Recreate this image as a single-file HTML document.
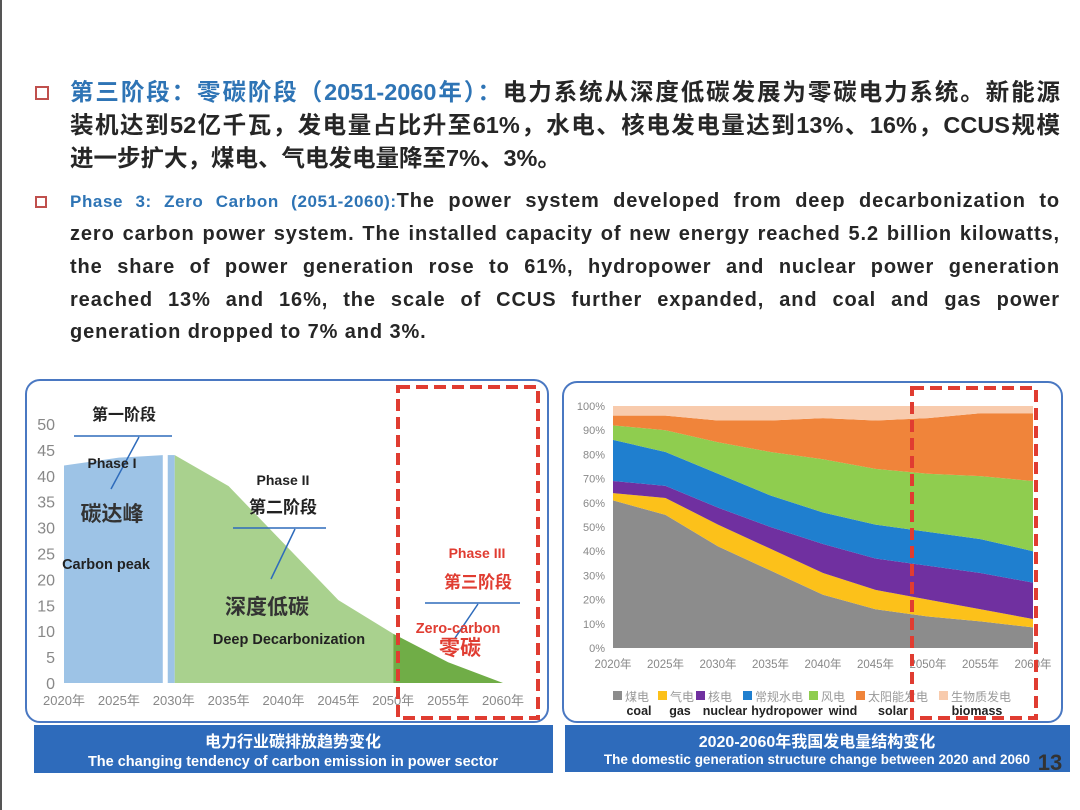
<!DOCTYPE html>
<html><head><meta charset="utf-8">
<style>
html,body{margin:0;padding:0;background:#fff;}
body{width:1080px;height:810px;position:relative;overflow:hidden;font-family:"Liberation Sans","Noto Sans CJK SC",sans-serif;}
.ln{position:absolute;left:70px;width:990px;white-space:nowrap;font-weight:bold;color:#262626;}
.j{text-align:justify;text-align-last:justify;}
.zh{font-size:23.5px;line-height:33px;}
.en{font-size:20px;line-height:32px;letter-spacing:0.9px;}
.bl{color:#2e74b5;}
.bul{position:absolute;left:35px;width:10px;height:10px;border:2px solid #c0504d;}
svg text{font-family:"Liberation Sans","Noto Sans CJK SC",sans-serif;}
</style></head><body>
<div style="position:absolute;left:0;top:0;width:2px;height:810px;background:#555"></div>
<div class="bul" style="top:86px"></div>
<div class="ln zh j" style="top:76px"><span class="bl">第三阶段：零碳阶段（2051-2060年）：</span>电力系统从深度低碳发展为零碳电力系统。新能源</div>
<div class="ln zh j" style="top:109px">装机达到52亿千瓦，发电量占比升至61%，水电、核电发电量达到13%、16%，CCUS规模</div>
<div class="ln zh" style="top:142px">进一步扩大，煤电、气电发电量降至7%、3%。</div>
<div class="bul" style="top:196px;width:8px;height:8px"></div>
<div class="ln en j" style="top:185px"><span class="bl" style="font-size:17px;letter-spacing:0.6px">Phase 3: Zero Carbon (2051-2060):</span>The power system developed from deep decarbonization to</div>
<div class="ln en j" style="top:218px">zero carbon power system. The installed capacity of new energy reached 5.2 billion kilowatts,</div>
<div class="ln en j" style="top:251px">the share of power generation rose to 61%, hydropower and nuclear power generation</div>
<div class="ln en j" style="top:284px">reached 13% and 16%, the scale of CCUS further expanded, and coal and gas power</div>
<div class="ln en" style="top:316px">generation dropped to 7% and 3%.</div>

<svg id="svg" width="1080" height="810" style="position:absolute;left:0;top:0">
<rect x="26" y="380" width="522" height="342" rx="14" fill="#fff" stroke="#4a78c2" stroke-width="2"/>
<rect x="563" y="382" width="499" height="340" rx="14" fill="#fff" stroke="#4a78c2" stroke-width="2"/>
<g id="left"></g><g id="right"></g>
<rect x="34" y="725" width="519" height="48" fill="#2e6bbb"/>
<text x="293" y="747" fill="#fff" font-size="16" font-weight="bold" text-anchor="middle">电力行业碳排放趋势变化</text>
<text x="293" y="766" fill="#fff" font-size="14.5" font-weight="bold" text-anchor="middle">The changing tendency of carbon emission in power sector</text>
<rect x="565" y="725" width="505" height="47" fill="#2e6bbb"/>
<text x="817" y="747" fill="#fff" font-size="16" font-weight="bold" text-anchor="middle">2020-2060年我国发电量结构变化</text>
<text x="817" y="764" fill="#fff" font-size="13.5" font-weight="bold" text-anchor="middle">The domestic generation structure change between 2020 and 2060</text>
<text x="1050" y="770" fill="#333" font-size="22" font-weight="bold" text-anchor="middle">13</text>
</svg>
<script>
const NS="http://www.w3.org/2000/svg";
// Left chart data
const leftYears=[2020,2025,2029,2030,2035,2040,2045,2050,2055,2060];
const leftEmission=[42,43.5,44,44,38,27,16,9.5,4,0];
const leftTicks=[0,5,10,15,20,25,30,35,40,45,50];
const leftLabels=["2020年","2025年","2030年","2035年","2040年","2045年","2050年","2055年","2060年"];
// Right chart data (share %, by series)
const rightLabels=["2020年","2025年","2030年","2035年","2040年","2045年","2050年","2055年","2060年"];
const coal=[61,55,42,32,22,16,13,11,8.5];
const gas=[3,7,9,9,9,8,7,5,3.5];
const nuclear=[5,5,7,9,12,13,14,15,15];
const hydro=[17,14,14,13,13,14,14,14,13];
const wind=[6,9,13,18,22,23,24,26,29];
const solar=[4,6,9,13,17,20,23,26,28];
const biomass=[4,4,6,6,5,6,5,3,3];
const rightTicks=[0,10,20,30,40,50,60,70,80,90,100];

function mk(tag,attrs,parent,text){const e=document.createElementNS(NS,tag);for(const k in attrs)e.setAttribute(k,attrs[k]);if(text!==undefined)e.textContent=text;parent.appendChild(e);return e;}

// LEFT
const L=document.getElementById('left');
const lx=y=>64+(y-2020)*(439/40);
const ly=v=>683-v*(259/50);
leftTicks.forEach(t=>{
  const e=mk('text',{x:55,y:ly(t)+6,'font-size':16,fill:'#888','text-anchor':'end'},L,t);
  
  
});
leftLabels.forEach((s,i)=>{
  const e=mk('text',{x:lx(2020+5*i),y:705,'font-size':13,fill:'#888','text-anchor':'middle'},L,s);
  
  
});
let d=`M${lx(2020)},${ly(0)}`;
for(let i=0;i<3;i++)d+=` L${lx(leftYears[i])},${ly(leftEmission[i])}`;
d+=` L${lx(leftYears[2])},${ly(0)} Z`;
const p1=mk('path',{d:d,fill:'#9dc3e6'},L);


const sx=lx(leftYears[3]);
const strip=mk('rect',{x:sx-6,y:ly(leftEmission[3]),width:7,height:ly(0)-ly(leftEmission[3]),fill:'#9dc3e6'},L);


function area(i0,i1,x0){let s=`M${x0},${ly(0)} L${x0},${ly(leftEmission[i0])}`;for(let i=i0+1;i<=i1;i++)s+=` L${lx(leftYears[i])},${ly(leftEmission[i])}`;s+=` L${lx(leftYears[i1])},${ly(0)} Z`;return s;}
const p2=mk('path',{d:area(3,7,sx+1),fill:'#a9d18e'},L);


const p3=mk('path',{d:area(7,9,lx(2050)),fill:'#70ad47'},L);


function t(x,y,s,size,col,name){const e=mk('text',{x:x,y:y,'font-size':size,'font-weight':'bold',fill:col,'text-anchor':'middle'},L,s);return e;}
t(124,420,"第一阶段",16,'#222','phase1-zh');
mk('line',{x1:74,y1:436,x2:172,y2:436,stroke:'#2e6bbb','stroke-width':1.5},L);
mk('line',{x1:139,y1:437,x2:111,y2:489,stroke:'#2e6bbb','stroke-width':1.5},L);
t(112,468,"Phase I",14,'#222','phase1-en');
t(112,521,"碳达峰",21,'#333','carbon-peak-zh');
t(106,569,"Carbon peak",14.5,'#222','carbon-peak-en');
t(283,485,"Phase II",14,'#222','phase2-en');
t(283,513,"第二阶段",17,'#222','phase2-zh');
mk('line',{x1:233,y1:528,x2:326,y2:528,stroke:'#2e6bbb','stroke-width':1.5},L);
mk('line',{x1:295,y1:529,x2:271,y2:579,stroke:'#2e6bbb','stroke-width':1.5},L);
t(267,614,"深度低碳",21,'#333','deep-decarb-zh');
t(289,644,"Deep Decarbonization",14.5,'#222','deep-decarb-en');
t(477,558,"Phase III",14,'#e03c31','phase3-en');
t(478,588,"第三阶段",17,'#e03c31','phase3-zh');
mk('line',{x1:425,y1:603,x2:520,y2:603,stroke:'#2e6bbb','stroke-width':1.5},L);
mk('line',{x1:478,y1:604,x2:455,y2:638,stroke:'#2e6bbb','stroke-width':1.5},L);
t(458,633,"Zero-carbon",14.5,'#e03c31','zero-carbon-en');
t(460,655,"零碳",21,'#e03c31','zero-carbon-zh');
const b1=mk('rect',{x:398,y:387,width:140,height:331,fill:'none',stroke:'#e03c31','stroke-width':4,'stroke-dasharray':'12 6'},L);



// RIGHT
const R=document.getElementById('right');
const rx=i=>613+i*52.5;
const ry=v=>648-v*2.42;
rightTicks.forEach(v=>{
  const e=mk('text',{x:605,y:ry(v)+4,'font-size':11,fill:'#888','text-anchor':'end'},R,v+'%');
  
  
});
rightLabels.forEach((s,i)=>{
  const e=mk('text',{x:rx(i),y:668,'font-size':11.5,fill:'#888','text-anchor':'middle'},R,s);
  
  
});
const series=[coal,gas,nuclear,hydro,wind,solar,biomass];
const names=['coal','gas','nuclear','hydropower','wind','solar','biomass'];
const zh=['煤电','气电','核电','常规水电','风电','太阳能发电','生物质发电'];
const colors=['#8c8c8c','#fcc11a','#7030a0','#1f7fcf','#8fcd4f','#f0843a','#f8cbad'];
let base=coal.map(()=>0);
series.forEach((s,k)=>{
  const top=s.map((v,i)=>base[i]+v);
  let pd=`M${rx(0)},${ry(base[0])}`;
  top.forEach((v,i)=>pd+=` L${rx(i)},${ry(k===series.length-1?Math.max(v,100):v)}`);
  for(let i=base.length-1;i>=0;i--)pd+=` L${rx(i)},${ry(base[i])}`;
  const p=mk('path',{d:pd+' Z',fill:colors[k]},R);
  
  
  base=top;
});
const lgx=[617,662,700,747,813,860,943];
const enx=[639,680,725,787,843,893,977];
names.forEach((n,k)=>{
  const sq=mk('rect',{x:lgx[k]-4,y:691,width:9,height:9,fill:colors[k]},R);
  
  
  const z=mk('text',{x:lgx[k]+8,y:701,'font-size':12,fill:'#999'},R,zh[k]);
  
  
  const e=mk('text',{x:enx[k],y:715,'font-size':12.5,'font-weight':'bold',fill:'#222','text-anchor':'middle'},R,n);
  
  
});
const b2=mk('rect',{x:912,y:388,width:124,height:330,fill:'none',stroke:'#e03c31','stroke-width':4,'stroke-dasharray':'12 6'},R);


</script>
</body></html>
